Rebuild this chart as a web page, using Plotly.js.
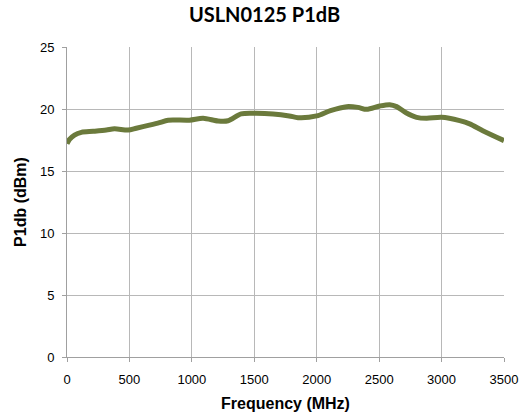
<!DOCTYPE html>
<html>
<head>
<meta charset="utf-8">
<script src="https://cdn.plot.ly/plotly-3.0.1.min.js"></script>
<style>html,body{margin:0;padding:0;background:#fff;}#chart{width:529px;height:417px;}</style>
</head>
<body>
<div id="chart"></div>
<script>
const frequency = [0, 20, 60, 115, 210, 315, 380, 490, 555, 660, 740, 810, 980, 1090, 1210, 1290, 1395, 1500, 1650, 1780, 1850, 2000, 2110, 2240, 2330, 2400, 2505, 2585, 2640, 2715, 2800, 2880, 3000, 3145, 3225, 3330, 3500];
const p1db = [17.2, 17.55, 17.9, 18.12, 18.2, 18.3, 18.4, 18.3, 18.45, 18.7, 18.9, 19.1, 19.1, 19.25, 19.03, 19.05, 19.6, 19.65, 19.6, 19.44, 19.3, 19.44, 19.87, 20.19, 20.13, 19.97, 20.24, 20.35, 20.19, 19.7, 19.33, 19.25, 19.33, 19.06, 18.8, 18.25, 17.45];

const trace = {
  x: frequency, y: p1db, type: 'scatter', mode: 'lines',
  line: {color: '#6b7a3c', width: 5, shape: 'spline', smoothing: 0.8},
  hoverinfo: 'skip'
};
const tickFont = {family: 'Liberation Sans, Arial, sans-serif', size: 13, color: '#000'};
const axTitleFont = {family: 'Liberation Sans, Arial, sans-serif', size: 16, color: '#000'};
const layout = {
  width: 529, height: 417,
  margin: {l: 67, r: 25, t: 47, b: 60},
  paper_bgcolor: '#fff', plot_bgcolor: '#fff',
  showlegend: false,
  title: {text: '<b>USLN0125 P1dB</b>', x: 0.5, xanchor: 'center', y: 0.964, yanchor: 'middle',
          font: {family: 'Lato, "Open Sans", sans-serif', size: 20, color: '#000'}},
  xaxis: {range: [0, 3500], dtick: 500, tick0: 0, showgrid: true, gridcolor: '#b8b8b8', gridwidth: 1,
          showline: true, linecolor: '#a0a0a0', linewidth: 1, ticks: 'outside', ticklen: 4, tickcolor: '#a0a0a0',
          zeroline: false, ticklabelstandoff: 6,
          tickfont: tickFont,
          title: {text: '<b>Frequency (MHz)</b>', standoff: 12, font: axTitleFont}},
  yaxis: {range: [0, 25], dtick: 5, tick0: 0, showgrid: true, gridcolor: '#b8b8b8', gridwidth: 1,
          showline: true, linecolor: '#a0a0a0', linewidth: 1, ticks: 'outside', ticklen: 4, tickcolor: '#a0a0a0',
          zeroline: false, ticklabelstandoff: 5,
          tickfont: tickFont,
          title: {text: '<b>P1db (dBm)</b>', standoff: 9, font: axTitleFont}}
};
Plotly.newPlot('chart', [trace], layout, {staticPlot: true, displayModeBar: false});
</script>
</body>
</html>
